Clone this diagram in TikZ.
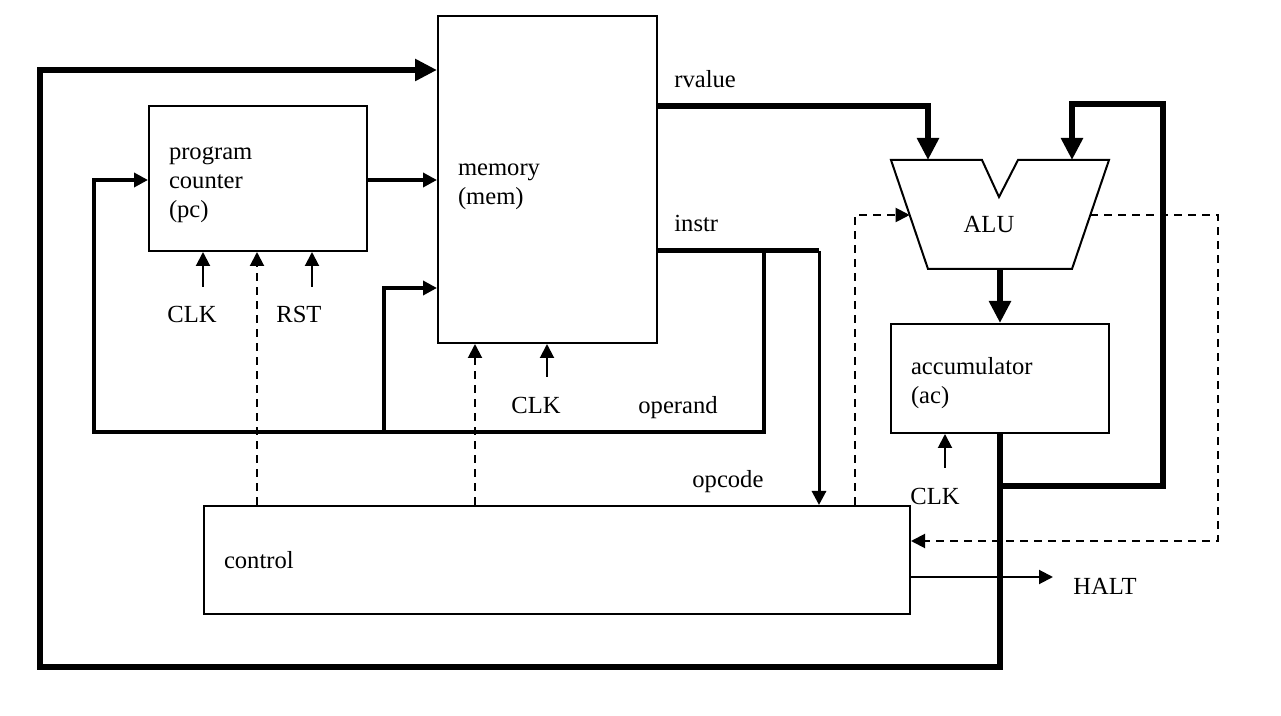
\documentclass[tikz,border=0pt]{standalone}
\usepackage{fontspec}
\setmainfont{Liberation Serif}
\usetikzlibrary{arrows.meta}

\tikzset{
  box/.style={draw, line width=1pt, align=left, inner xsep=10pt, inner ysep=0pt, anchor=north west},
  lbl/.style={anchor=base west, inner sep=0pt},
  bus/.style={line width=3pt},
  path/.style={line width=2pt},
  wire/.style={line width=1pt},
  ctl/.style={line width=1pt, dash pattern=on 4pt off 3pt},
  bigtip/.style={-{Triangle[length=11pt,width=10.5pt]}},
  smalltip/.style={-{Triangle[length=7pt,width=7pt]}},
}

\begin{document}
\begin{tikzpicture}[x=0.5pt,y=-0.5pt]
  \fontsize{12.3}{14.5}\selectfont
  \useasboundingbox (0,0) rectangle (1281,716);

  % blocks
  \node[box, text width=89pt, minimum height=72.5pt] (pc) at (148,105) {\rule{0pt}{13pt}program\\counter\\(pc)};
  \node[box, text width=89.5pt, minimum height=163.5pt] (mem) at (437,15) {\rule{0pt}{13pt}memory\\(mem)};
  \node[box, text width=89pt, minimum height=54.5pt] (acc) at (890,323) {\rule{0pt}{13pt}accumulator\\(ac)};
  \node[box, text width=333pt, minimum height=54pt] (ctrl) at (203,505) {control};

  % ALU
  \draw[line width=1pt] (891,160) -- (982,160) -- (999,197) -- (1018,160) -- (1109,160)
    -- (1072,269) -- (928,269) -- cycle;
  \node[anchor=base, inner sep=0pt] (alu) at (989,233) {ALU};
  \coordinate (aluA) at (928,160);
  \coordinate (aluB) at (1072,160);
  \coordinate (aluO) at (1000,269);
  \coordinate (aluL) at (909.7,215);
  \coordinate (aluR) at (1090.3,215);

  % data paths
  \coordinate (acctap) at (1000,486);
  \draw[bus, bigtip] (acc.south) -- (1000,667) -- (40,667) -- (40,70) -- (mem.west |- 0,70);
  \draw[bus, bigtip] (acctap) -- (1163,486) -- (1163,104) -- (1072,104) -- (aluB);
  \draw[bus, bigtip] (mem.east |- 0,106) -- (928,106) -- (aluA);
  \draw[bus, bigtip] (aluO) -- (acc.north -| aluO);

  \coordinate (instr) at (819,251);
  \draw[line width=2.5pt] (mem.east |- instr) -- (instr);
  \draw[line width=1.5pt, smalltip] (instr) -- (ctrl.north -| instr);
  \draw[path, smalltip] (764,251) -- (764,432) -- (94,432) -- (94,180) -- (pc.west |- 0,180);
  \draw[path, smalltip] (384,432) -- (384,288) -- (mem.west |- 0,288);
  \draw[path, smalltip] (pc.east |- 0,180) -- (mem.west |- 0,180);

  % control signals
  \draw[ctl, smalltip] (ctrl.north -| 257,0) -- (pc.south -| 257,0);
  \draw[ctl, smalltip] (ctrl.north -| 475,0) -- (mem.south -| 475,0);
  \draw[ctl, smalltip] (ctrl.north -| 855,0) -- (855,215) -- (aluL);
  \draw[ctl, smalltip] (aluR) -- (1218,215) -- (1218,541) -- (ctrl.east |- 0,541);
  \draw[wire, smalltip] (ctrl.east |- 0,577) -- (1053,577);

  % clocks and reset
  \draw[wire, smalltip] (203,287) -- (pc.south -| 203,0);
  \draw[wire, smalltip] (312,287) -- (pc.south -| 312,0);
  \draw[wire, smalltip] (547,377) -- (mem.south -| 547,0);
  \draw[wire, smalltip] (945,468) -- (acc.south -| 945,0);

  % labels
  \node[lbl] (clk1) at (167,323) {CLK};
  \node[lbl] (rst) at (276,323) {RST};
  \node[lbl] (clk2) at (511,414) {CLK};
  \node[lbl] (clk3) at (910,505) {CLK};
  \node[lbl] (rvalue) at (674,88) {rvalue};
  \node[lbl] (instrl) at (674,232) {instr};
  \node[lbl] (operand) at (638,414) {operand};
  \node[lbl] (opcode) at (692,488) {opcode};
  \node[lbl] (halt) at (1073,595) {HALT};
\end{tikzpicture}
\end{document}
